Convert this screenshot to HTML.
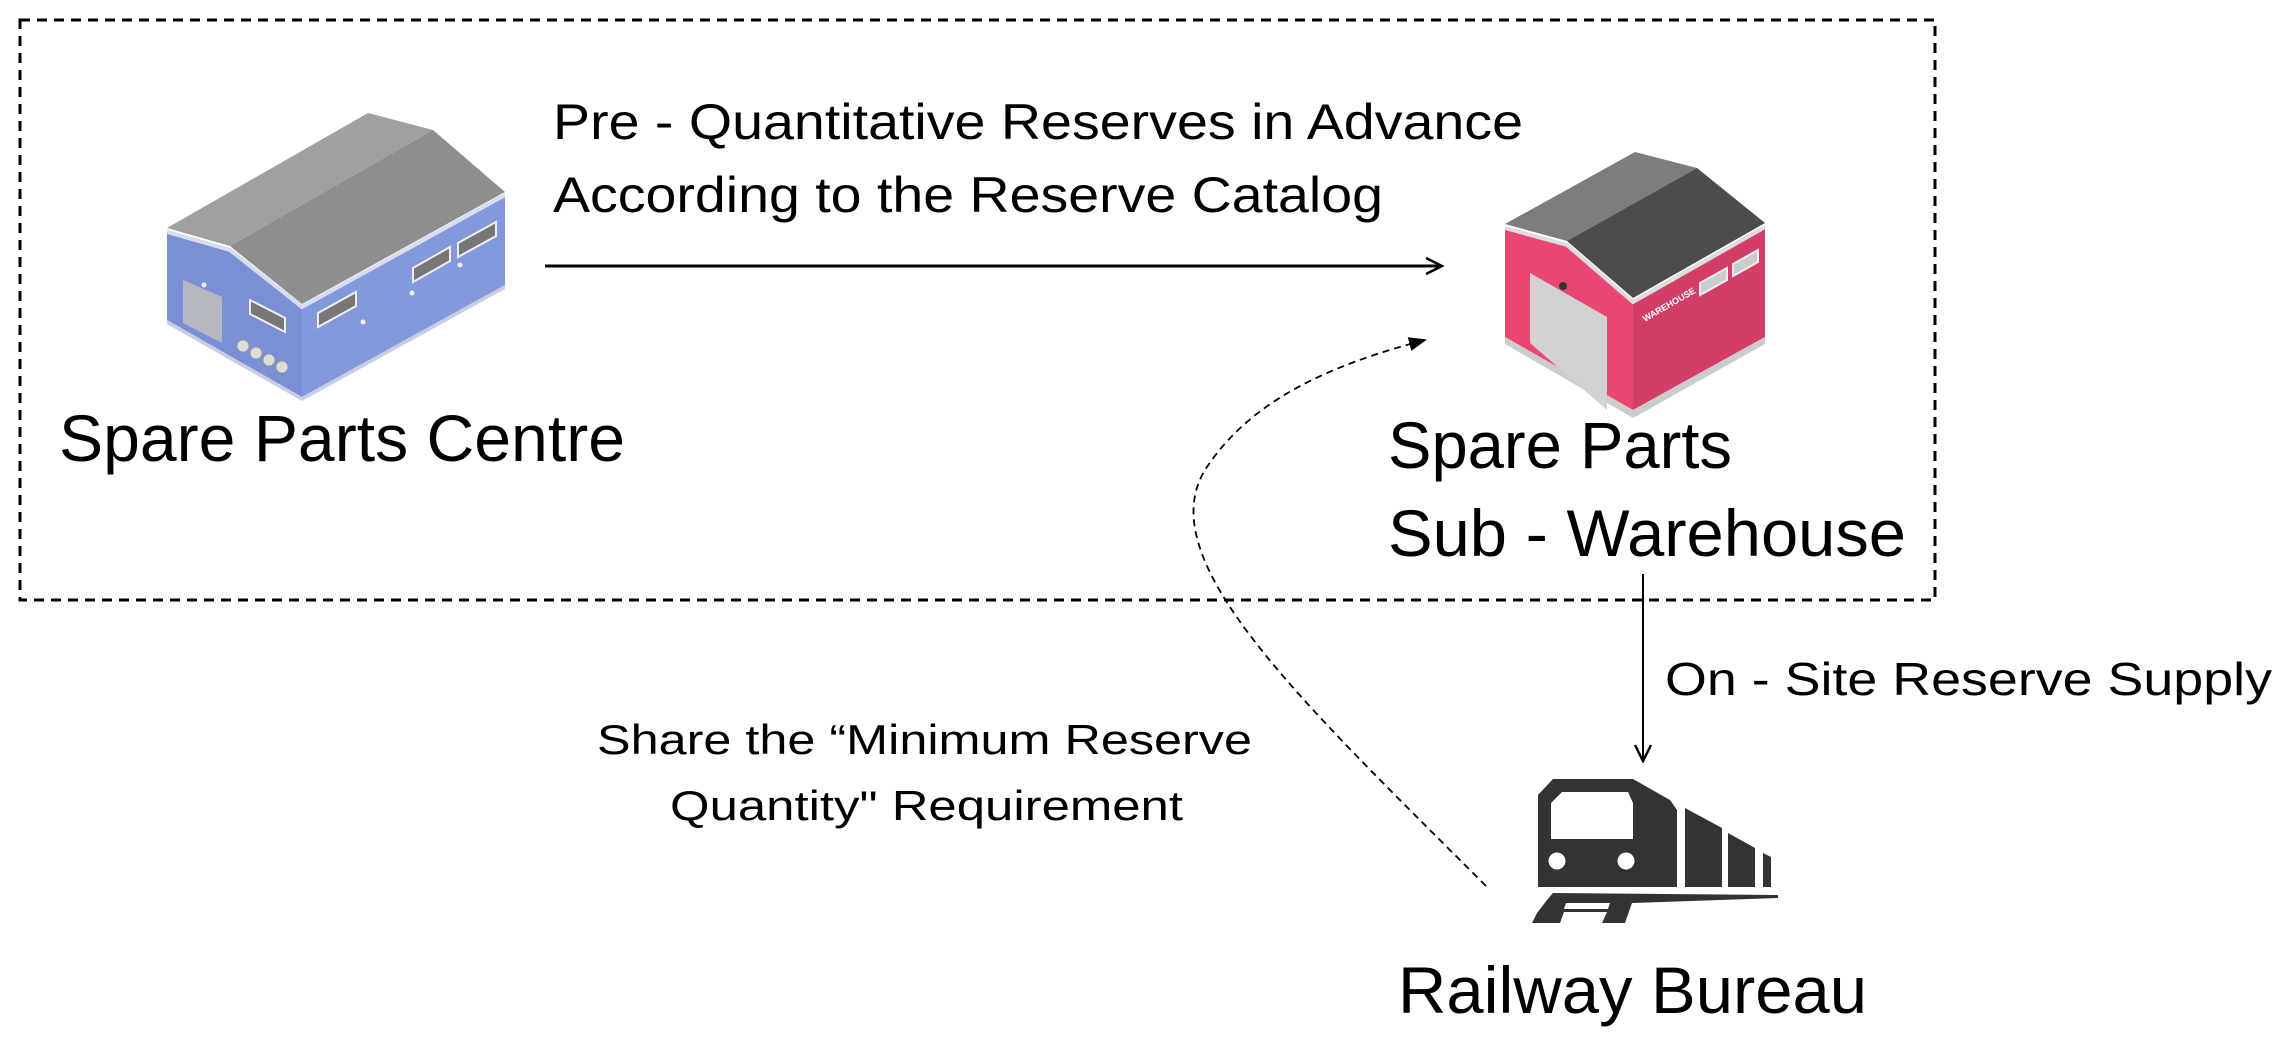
<!DOCTYPE html>
<html><head><meta charset="utf-8"><style>
html,body{margin:0;padding:0;background:#fff;}
svg{display:block;}
text{font-family:"Liberation Sans",sans-serif;fill:#000;}
</style></head><body>
<svg width="2295" height="1047" viewBox="0 0 2295 1047" xmlns="http://www.w3.org/2000/svg">
<defs>
<marker id="open" markerWidth="20" markerHeight="20" refX="18" refY="10" orient="auto" markerUnits="userSpaceOnUse">
<path d="M2,2 L18,10 L2,18" fill="none" stroke="#000" stroke-width="2.5"/></marker>
<marker id="tri" markerWidth="20" markerHeight="20" refX="16" refY="10" orient="auto" markerUnits="userSpaceOnUse">
<path d="M0,3 L18,10 L0,17 Z" fill="#000"/></marker>
</defs>
<rect x="20" y="20" width="1915" height="580" fill="none" stroke="#000" stroke-width="3" stroke-dasharray="10,7"/>

<!-- blue building -->
<polygon points="167,232 230,250 302,307 302,397 167,320" fill="#7b8fd6"/>
<polygon points="302,307 505,195 505,285 302,397" fill="#8499dc"/>
<polygon points="167,320 302,397 505,285 505,289 302,401 167,324" fill="#c8cde6"/>
<polygon points="167,228 368,113 433,130 230,246" fill="#a0a0a0"/>
<polygon points="230,246 433,130 505,192 302,304" fill="#8e8e8e"/>
<polyline points="167,232 230,250 302,307 505,195" fill="none" stroke="#d8dcef" stroke-width="4"/>
<polygon points="183,280 222,297 222,343 183,323" fill="#b5b8c0"/>
<g fill="#ddd" stroke="#999" stroke-width="1">
<circle cx="243" cy="346" r="6"/><circle cx="256" cy="353" r="6"/><circle cx="269" cy="360" r="6"/><circle cx="282" cy="367" r="6"/></g>
<g fill="#777" stroke="#eee" stroke-width="2">
<polygon points="250,300 285,318 285,332 250,314"/>
<polygon points="318,313 356,292 356,306 318,327"/>
<polygon points="413,268 450,247 450,261 413,282"/>
<polygon points="458,243 496,222 496,236 458,257"/></g>
<g fill="#eee"><circle cx="204" cy="285" r="2.5"/><circle cx="363" cy="322" r="2.5"/><circle cx="412" cy="293" r="2.5"/><circle cx="460" cy="265" r="2.5"/></g>

<!-- pink building -->
<polygon points="1505,228 1567,245 1633,302 1633,410 1505,337" fill="#ea4673"/>
<polygon points="1633,302 1765,227 1765,337 1633,410" fill="#d33e68"/>
<polygon points="1633,410 1765,337 1765,344 1633,418 1505,344 1505,337" fill="#ccc"/>
<polygon points="1505,224 1635,152 1697,168 1567,241" fill="#7d7d7d"/>
<polygon points="1567,241 1697,168 1765,223 1633,298" fill="#4c4c4c"/>
<polyline points="1505,228 1567,245 1633,302 1765,227" fill="none" stroke="#ddd" stroke-width="4"/>
<polygon points="1530,273 1607,317 1607,410 1530,343" fill="#d2d2d2"/>
<circle cx="1563" cy="286" r="4" fill="#333"/>
<polygon points="1700,283 1727,268 1727,280 1700,295" fill="#ccc" stroke="#eee" stroke-width="2"/>
<polygon points="1733,264 1758,250 1758,262 1733,276" fill="#ccc" stroke="#eee" stroke-width="2"/>
<text x="0" y="0" font-size="9" font-weight="bold" fill="#fff" style="fill:#fff" transform="translate(1645,322) rotate(-30)">WAREHOUSE</text>

<!-- texts -->
<text x="553" y="139" font-size="50" textLength="970" lengthAdjust="spacingAndGlyphs">Pre - Quantitative Reserves in Advance</text>
<text x="553" y="212" font-size="50" textLength="830" lengthAdjust="spacingAndGlyphs">According to the Reserve Catalog</text>
<line x1="545" y1="266" x2="1442" y2="266" stroke="#000" stroke-width="3" marker-end="url(#open)"/>
<text x="59" y="461" font-size="66" textLength="566" lengthAdjust="spacingAndGlyphs">Spare Parts Centre</text>
<text x="1388" y="468" font-size="66" textLength="344" lengthAdjust="spacingAndGlyphs">Spare Parts</text>
<text x="1388" y="556" font-size="66" textLength="518" lengthAdjust="spacingAndGlyphs">Sub - Warehouse</text>
<line x1="1643" y1="574" x2="1643" y2="761" stroke="#000" stroke-width="2" marker-end="url(#open)"/>
<text x="1665" y="695" font-size="46" textLength="607" lengthAdjust="spacingAndGlyphs">On - Site Reserve Supply</text>
<text x="597" y="754" font-size="42" textLength="655" lengthAdjust="spacingAndGlyphs">Share the “Minimum Reserve</text>
<text x="670" y="820" font-size="42" textLength="513" lengthAdjust="spacingAndGlyphs">Quantity" Requirement</text>
<path d="M1486,886 C1300,700 1150,560 1205,470 C1250,400 1330,365 1425,340" fill="none" stroke="#000" stroke-width="1.8" stroke-dasharray="7,5" marker-end="url(#tri)"/>
<text x="1398" y="1013" font-size="66" textLength="469" lengthAdjust="spacingAndGlyphs">Railway Bureau</text>

<!-- train -->
<g fill="#333">
<polygon points="1538,887 1538,795 1553,779 1633,779 1670,800 1677,810 1677,887"/>
<polygon points="1551,803 1562,792 1628,792 1633,803 1633,839 1551,839" fill="#fff"/>
<circle cx="1557" cy="861" r="8.5" fill="#fff"/>
<circle cx="1626" cy="861" r="8.5" fill="#fff"/>
<polygon points="1685,808 1722,828 1722,887 1685,887"/>
<polygon points="1728,833 1755,848 1755,887 1728,887"/>
<polygon points="1763,853 1771,857 1771,887 1763,887"/>
<polygon points="1553,893 1778,895 1778,898 1632,903 1625,923 1602,923 1607,912 1564,912 1560,923 1532,923 1537,913 1547,900"/>
<polygon points="1566,903 1610,903 1608,909 1564,909" fill="#fff"/>
</g>
</svg>
</body></html>
